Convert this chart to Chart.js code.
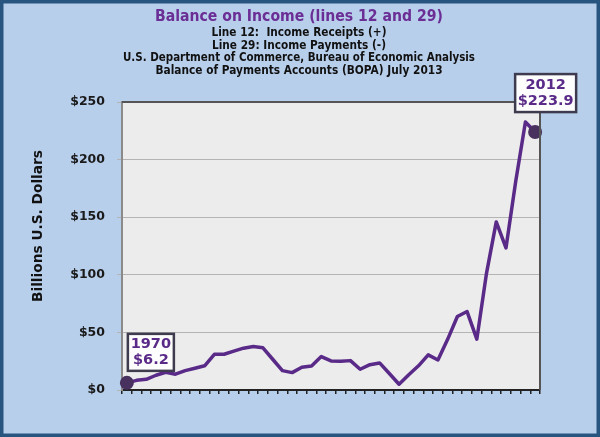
<!DOCTYPE html>
<html>
<head>
<meta charset="utf-8">
<script src="https://cdn.jsdelivr.net/npm/chart.js@4/dist/chart.umd.min.js"></script>
<style>
html,body{margin:0;padding:0;background:#b8cfec;overflow:hidden;}
canvas{display:block;}
</style>
</head>
<body>
<canvas id="c" width="600" height="437"></canvas>
<script>
// ---- data ----
const years = [1970,1971,1972,1973,1974,1975,1976,1977,1978,1979,
               1980,1981,1982,1983,1984,1985,1986,1987,1988,1989,
               1990,1991,1992,1993,1994,1995,1996,1997,1998,1999,
               2000,2001,2002,2003,2004,2005,2006,2007,2008,2009,
               2010,2011,2012];
const balanceOnIncome = [6.2,8.4,9.3,12.8,15.4,13.7,16.8,18.9,21.0,31.0,
                         31.0,33.7,36.3,37.7,36.6,26.7,16.8,15.1,19.7,20.9,
                         29.0,25.2,25.0,25.5,18.0,22.0,23.5,14.3,5.0,13.3,
                         21.0,30.5,26.1,44.0,63.8,68.1,44.1,101.5,145.9,123.3,
                         181.0,232.6,223.9];
const yTicks = [0,50,100,150,200,250];
const titleText = "Balance on Income (lines 12 and 29)";
const subtitleLines = ["Line 12:  Income Receipts (+)",
                       "Line 29: Income Payments (-)",
                       "U.S. Department of Commerce, Bureau of Economic Analysis",
                       "Balance of Payments Accounts (BOPA) July 2013"];
const yAxisTitle = "Billions U.S. Dollars";

// ---- styles ----
const PAGE_BG = '#b8cfec', FRAME = '#285580', PLOT_BG = '#ececec';
const PURPLE = '#5a2a88', TITLE_PURPLE = '#6a2e94', DOT = '#48315f';
const FONT = "'DejaVu Sans', Verdana, sans-serif";

function drawFitText(ctx, text, x, y, size, width, color){
  ctx.save();
  ctx.font = 'bold ' + size + 'px ' + FONT;
  const w = ctx.measureText(text).width;
  const sx = width ? width / w : 1;
  ctx.translate(x, y);
  ctx.scale(sx, 1);
  ctx.fillStyle = color;
  ctx.textAlign = 'center';
  ctx.textBaseline = 'middle';
  ctx.fillText(text, 0, 0);
  ctx.restore();
}

const decor = {
  id: 'decor',
  beforeDraw(chart){
    const ctx = chart.ctx, a = chart.chartArea;
    ctx.save();
    ctx.fillStyle = PAGE_BG;
    ctx.fillRect(0,0,chart.width,chart.height);
    ctx.strokeStyle = FRAME;
    ctx.lineWidth = 3.5;
    ctx.strokeRect(1.75,1.75,chart.width-3.5,chart.height-3.5);
    ctx.fillStyle = PLOT_BG;
    ctx.fillRect(a.left,a.top,a.right-a.left,a.bottom-a.top);
    ctx.restore();
  },
  afterDraw(chart){
    const ctx = chart.ctx, a = chart.chartArea;
    ctx.save();
    // plot top/right border
    ctx.strokeStyle = '#555555';
    ctx.lineWidth = 2;
    ctx.beginPath();
    ctx.moveTo(a.left, a.top);
    ctx.lineTo(a.right, a.top);
    ctx.lineTo(a.right, a.bottom);
    ctx.stroke();
    // titles
    drawFitText(ctx, titleText, 299, 17, 16.5, 288, TITLE_PURPLE);
    const subY = [33.3, 45.7, 58.3, 71];
    const subW = [175, 174, 352, 287];
    subtitleLines.forEach((t,i)=>drawFitText(ctx, t, 299, subY[i], 11.5, subW[i], '#111111'));
    // y axis title
    ctx.save();
    ctx.translate(38, 226);
    ctx.rotate(-Math.PI/2);
    drawFitText(ctx, yAxisTitle, 0, 0, 14, 152, '#111111');
    ctx.restore();
    // annotation boxes
    const meta = chart.getDatasetMeta(0);
    const last = years.length - 1;
    const notes = [
      {i:0, dx:1, dy:-49, w:46, h:37},
      {i:last, dx:-20, dy:-58, w:61, h:38}
    ];
    notes.forEach(n=>{
      const p = meta.data[n.i];
      const bx = p.x + n.dx, by = p.y + n.dy;
      ctx.fillStyle = '#fdfdfd';
      ctx.fillRect(bx, by, n.w, n.h);
      ctx.strokeStyle = '#3d3b4d';
      ctx.lineWidth = 2.5;
      ctx.strokeRect(bx, by, n.w, n.h);
      ctx.fillStyle = PURPLE;
      ctx.font = 'bold 14.5px ' + FONT;
      ctx.textAlign = 'center';
      ctx.textBaseline = 'middle';
      ctx.fillText(String(years[n.i]), bx + n.w/2, by + n.h*0.29);
      ctx.fillText('$' + balanceOnIncome[n.i].toFixed(1), bx + n.w/2, by + n.h*0.72);
    });
    ctx.restore();
  }
};

const lastIdx = years.length - 1;
new Chart(document.getElementById('c'), {
  type: 'line',
  data: {
    labels: years.map(String),
    datasets: [{
      data: balanceOnIncome,
      borderColor: PURPLE,
      borderWidth: 3.5,
      tension: 0,
      borderJoinStyle: 'round',
      pointRadius: c => (c.dataIndex === 0 || c.dataIndex === lastIdx) ? 7 : 0,
      pointBackgroundColor: DOT,
      pointBorderColor: DOT,
      pointBorderWidth: 0
    }]
  },
  options: {
    responsive: false,
    animation: false,
    devicePixelRatio: 1,
    layout: { padding: { top: 102, right: 60, left: 0, bottom: 0 } },
    plugins: { legend: { display: false }, tooltip: { enabled: false }, title: { display: false } },
    scales: {
      x: {
        type: 'category',
        offset: true,
        grid: { offset: true, drawOnChartArea: false, drawTicks: true, tickLength: 4, color: '#222222', lineWidth: 1.5 },
        border: { color: '#222222', width: 2 },
        ticks: { display: false },
        afterFit(s){ s.height = 47; }
      },
      y: {
        min: 0, max: 250,
        afterBuildTicks(s){ s.ticks = yTicks.map(v => ({value: v})); },
        grid: { color: '#b4b4b4', lineWidth: 1, tickLength: 5 },
        border: { color: '#8a8a8a', width: 2 },
        ticks: {
          padding: 12,
          color: '#1a1a1a',
          font: { family: FONT, weight: 'bold', size: 12.5 },
          callback: v => '$' + v
        },
        afterFit(s){ s.width = 122; }
      }
    }
  },
  plugins: [decor]
});
</script>
</body>
</html>
